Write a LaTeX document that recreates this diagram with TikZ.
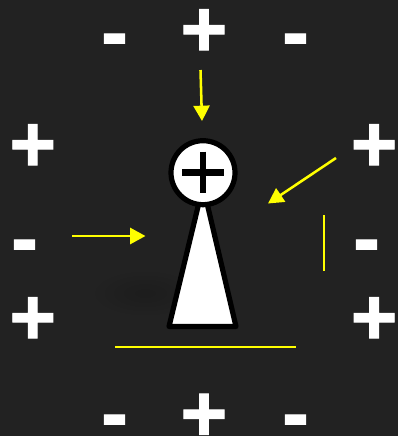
\documentclass[tikz,border=0pt]{standalone}
\usepackage{fontspec}
\setmainfont{Liberation Sans}
\newfontfamily\signfont[FakeBold=1.2]{Liberation Sans Bold}
\usetikzlibrary{arrows.meta}
\definecolor{bgc}{HTML}{222222}
\definecolor{yel}{HTML}{FFFF00}
\pgfdeclareradialshading{softshadow}{\pgfpointorigin}{color(0bp)=(black!16!bgc); color(12bp)=(black!9!bgc); color(25bp)=(bgc); color(50bp)=(bgc)}
\tikzset{
  sign/.style={text=white,inner sep=0pt,font=\signfont\fontsize{60}{60}\selectfont,anchor=center},
  plussign/.style={sign,yshift=-2.2pt,xshift=-0.2pt},
  minussign/.style={sign,yshift=-6.8pt,xshift=-0.3pt},
  yline/.style={draw=yel,line width=1.9pt},
  yarrow/.style={yline,-{Triangle[length=11.5pt,width=12pt]}},
  pawn/.style={draw=black,line width=3.9pt,fill=white,line join=round}
}
\begin{document}
\begin{tikzpicture}[x=0.75pt,y=-0.75pt]
\useasboundingbox (0,0) rectangle (398,436);
\fill[bgc] (0,0) rectangle (398,436);
% soft shadow
\begin{scope}
\clip (0,0) rectangle (398,436);
\shade[shading=softshadow] (145,293) ellipse (55 and 24);
\end{scope}
% signs
\node[plussign] (p1) at (204.2,30) {+};
\node[minussign] (m1) at (115,37.5) {-};
\node[minussign] (m2) at (296,37.5) {-};
\node[plussign] (p2) at (33,145) {+};
\node[minussign] (m3) at (25,243.5) {-};
\node[plussign] (p3) at (33,318) {+};
\node[plussign] (p4) at (374.4,145) {+};
\node[minussign] (m4) at (367,243.5) {-};
\node[plussign] (p5) at (374.4,318) {+};
\node[plussign] (p6) at (204.2,414.5) {+};
\node[minussign] (m5) at (115,418.5) {-};
\node[minussign] (m6) at (296,418.5) {-};
% pawn
\coordinate (tl) at (169,326.5);
\coordinate (tr) at (236,326.5);
\coordinate (ta) at (203,186);
\draw[pawn] (tl) -- (ta) -- (tr) -- cycle;
\coordinate (cc) at (203,172.7);
\draw[pawn] (cc) circle (32);
\coordinate (hl) at (182.3,172.5);
\coordinate (hr) at (224.3,172.5);
\coordinate (vt) at (203.3,151.7);
\coordinate (vb) at (203.3,193.3);
\draw[draw=black,line width=4.6pt] (hl) -- (hr) (vt) -- (vb);
% yellow
\coordinate (a1s) at (200.5,70);
\coordinate (a1e) at (202,121);
\coordinate (a2s) at (72,236);
\coordinate (a2e) at (145.5,236);
\coordinate (a3s) at (336,158);
\coordinate (a3e) at (268,203.5);
\draw[yarrow] (a1s) -- (a1e);
\draw[yarrow] (a2s) -- (a2e);
\draw[yarrow] (a3s) -- (a3e);
\coordinate (l1s) at (324,215);
\coordinate (l1e) at (324,271);
\coordinate (l2s) at (115,347);
\coordinate (l2e) at (296,347);
\draw[yline] (l1s) -- (l1e);
\draw[yline] (l2s) -- (l2e);
\end{tikzpicture}
\end{document}
